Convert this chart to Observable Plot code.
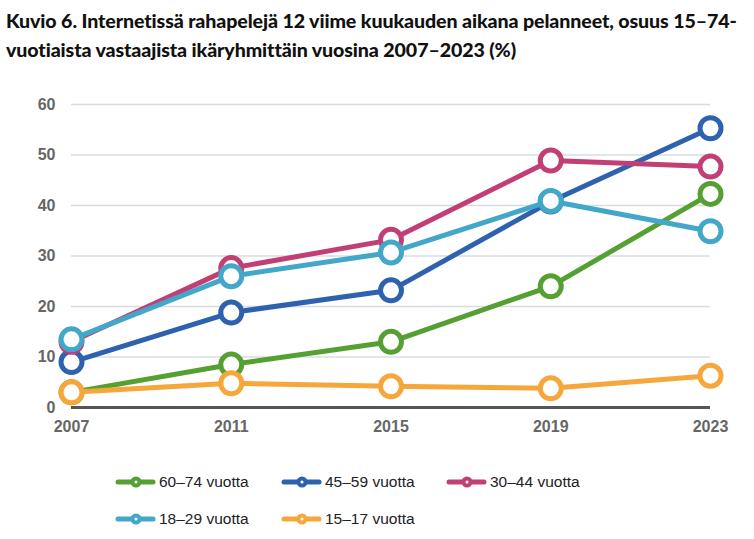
<!DOCTYPE html>
<html><head><meta charset="utf-8">
<script src="https://cdn.jsdelivr.net/npm/d3@7"></script>
<script src="https://cdn.jsdelivr.net/npm/@observablehq/plot@0.6"></script>
<style>
body{margin:0;background:#fff;width:754px;overflow:hidden}
#title{font-family:Lato,"Noto Sans",sans-serif;font-weight:900;font-size:19.6px;line-height:29px;color:#111;padding:6px 0 0 6px;height:64px;white-space:nowrap;letter-spacing:-0.1px}
#chart svg{display:block}
#legend{display:block}
</style></head><body>
<div id="title">Kuvio 6. Internetissä rahapelejä 12 viime kuukauden aikana pelanneet, osuus 15–74-<br>vuotiaista vastaajista ikäryhmittäin vuosina 2007–2023 (%)</div>
<div id="chart"></div>
<svg id="legend" width="754" height="94"></svg>
<script>
const years = [2007, 2011, 2015, 2019, 2023];
const seriesNames = ["60–74 vuotta", "45–59 vuotta", "30–44 vuotta", "18–29 vuotta", "15–17 vuotta"];
const seriesColors = ["#55a032", "#2f62ae", "#c23f76", "#42a7c8", "#f5a73b"];
const v60_74 = [3, 8.5, 13, 24, 42.3];
const v45_59 = [9, 18.8, 23.2, 40.8, 55.3];
const v30_44 = [13, 27.6, 33.2, 48.9, 47.7];
const v18_29 = [13.5, 26, 30.7, 40.9, 34.9];
const v15_17 = [3, 4.8, 4.2, 3.8, 6.3];
const yTicks = [0, 10, 20, 30, 40, 50, 60];
const seriesValues = [v60_74, v45_59, v30_44, v18_29, v15_17];

const rows = [];
seriesNames.forEach((s, i) => years.forEach((y, j) => rows.push({series: s, year: y, value: seriesValues[i][j]})));

const axisStyle = {fontSize: 16, fontWeight: "bold", fill: "#666", tickSize: 0, label: null};
const marks = [
  Plot.gridY(yTicks.filter(d => d > 0), {stroke: "#d8dce2", strokeOpacity: 1, strokeWidth: 1.5}),
  Plot.axisY(yTicks, {...axisStyle, tickPadding: 16}),
  Plot.axisX(years, {...axisStyle, tickPadding: 13, tickFormat: d => String(d)}),
  Plot.ruleY([0], {stroke: "#555", strokeWidth: 3}),
];
seriesNames.forEach((s, i) => {
  const data = rows.filter(d => d.series === s);
  marks.push(Plot.line(data, {x: "year", y: "value", stroke: seriesColors[i], strokeWidth: 5}));
  marks.push(Plot.dot(data, {x: "year", y: "value", r: 10.5, stroke: seriesColors[i], strokeWidth: 5, fill: "white"}));
});

const plot = Plot.plot({
  width: 754, height: 375,
  marginTop: 34, marginBottom: 38, marginLeft: 71, marginRight: 44,
  style: {fontFamily: "Arial, 'Liberation Sans', sans-serif", background: "white"},
  x: {domain: [2007, 2023]},
  y: {domain: [0, 60]},
  marks
});
document.getElementById("chart").appendChild(plot);

const leg = d3.select("#legend");
const cols = [118, 284, 449];
const rowY = [37, 74];
seriesNames.forEach((s, i) => {
  const x = cols[i % 3], y = rowY[Math.floor(i / 3)];
  const g = leg.append("g").attr("transform", `translate(${x},${y})`);
  g.append("line").attr("x1", 0).attr("x2", 35).attr("y1", 0).attr("y2", 0).attr("stroke", seriesColors[i]).attr("stroke-width", 5).attr("stroke-linecap", "round");
  g.append("circle").attr("cx", 18).attr("cy", 0).attr("r", 5.5).attr("fill", seriesColors[i]);
  g.append("circle").attr("cx", 18).attr("cy", 0).attr("r", 1.5).attr("fill", "white");
  g.append("text").attr("x", 41).attr("y", 0).attr("dy", "0.35em").attr("font-family", "Arial, 'Liberation Sans', sans-serif").attr("font-size", 15.5).attr("fill", "#222").text(s);
});
</script>
</body></html>
